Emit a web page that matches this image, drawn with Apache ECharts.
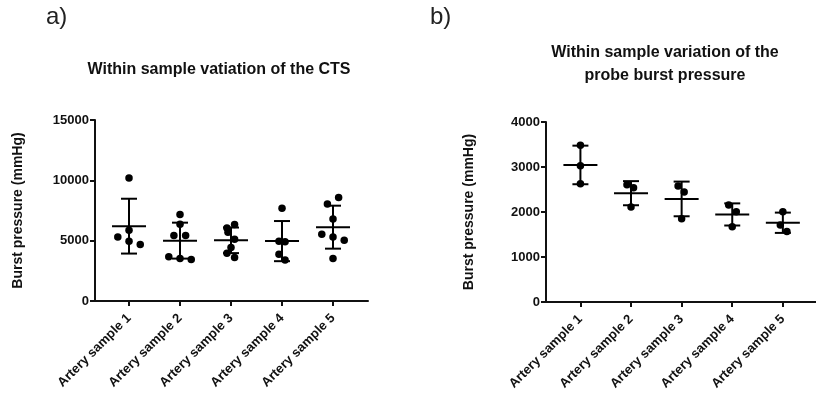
<!DOCTYPE html>
<html><head><meta charset="utf-8">
<script src="https://cdn.jsdelivr.net/npm/echarts@6/dist/echarts.min.js"></script>
<style>html,body{margin:0;padding:0;background:#fff}#c{width:816px;height:394px}</style>
</head><body><div id="c"></div>
<script>
// ---- data ----
const categories = ['Artery sample 1', 'Artery sample 2', 'Artery sample 3', 'Artery sample 4', 'Artery sample 5'];

// a) CTS burst pressure (mmHg)
const ctsS1 = [10190, 5314, 5868, 4959, 4686];
const ctsS2 = [7165, 6364, 5430, 5430, 3663, 3526, 3443];
const ctsS3 = [6330, 6060, 5700, 5110, 4440, 3960, 3600];
const ctsS4 = [7686, 4959, 4901, 3884, 3388];
const ctsS5 = [8570, 8041, 6802, 5537, 5314, 5041, 3529];
// horizontal jitter of the dots (in category units)
const ctsJ1 = [0, -0.22, 0, 0, 0.22];
const ctsJ2 = [0, 0, -0.12, 0.11, -0.22, 0, 0.22];
const ctsJ3 = [0.07, -0.08, -0.06, 0.07, 0, -0.08, 0.07];
const ctsJ4 = [0, -0.06, 0.06, -0.06, 0.06];
const ctsJ5 = [0.11, -0.11, 0, -0.22, 0, 0.22, 0];

// b) probe burst pressure (mmHg)
const prS1 = [3484, 3026, 2627];
const prS2 = [2605, 2538, 2111];
const prS3 = [2576, 2443, 1852];
const prS4 = [2155, 2007, 1675];
const prS5 = [2007, 1712, 1564];
const prJ1 = [0, 0, 0];
const prJ2 = [-0.08, 0.05, 0];
const prJ3 = [-0.07, 0.05, 0];
const prJ4 = [-0.07, 0.08, 0];
const prJ5 = [0, -0.05, 0.08];

const ctsTicks = [0, 5000, 10000, 15000];
const probeTicks = [0, 1000, 2000, 3000, 4000];

// ---- helpers ----
const FONT = '"Liberation Sans", Arial, sans-serif';
const INK = '#111';
function mean(a) { return a.reduce((s, v) => s + v, 0) / a.length; }
function sd(a) { const m = mean(a); return Math.sqrt(a.reduce((s, v) => s + (v - m) * (v - m), 0) / (a.length - 1)); }
function dots(groups, jit) {
  const out = [];
  groups.forEach((g, i) => g.forEach((v, k) => out.push([i + 1 + jit[i][k], v])));
  return out;
}
function bars(groups) { return groups.map((g, i) => [i + 1, mean(g), sd(g)]); }

const ctsGroups = [ctsS1, ctsS2, ctsS3, ctsS4, ctsS5];
const ctsJit = [ctsJ1, ctsJ2, ctsJ3, ctsJ4, ctsJ5];
const prGroups = [prS1, prS2, prS3, prS4, prS5];
const prJit = [prJ1, prJ2, prJ3, prJ4, prJ5];

function renderBar(params, api) {
  const x = api.value(0), m = api.value(1), s = api.value(2);
  const c = api.coord([x, m]), t = api.coord([x, m + s]), b = api.coord([x, m - s]);
  const st = { stroke: '#000', lineWidth: 2 };
  const cap = 8, half = 17;
  return {
    type: 'group', children: [
      { type: 'line', shape: { x1: t[0], y1: t[1], x2: b[0], y2: b[1] }, style: st },
      { type: 'line', shape: { x1: t[0] - cap, y1: t[1], x2: t[0] + cap, y2: t[1] }, style: st },
      { type: 'line', shape: { x1: b[0] - cap, y1: b[1], x2: b[0] + cap, y2: b[1] }, style: st },
      { type: 'line', shape: { x1: c[0] - half, y1: c[1], x2: c[0] + half, y2: c[1] }, style: st }
    ]
  };
}

function xAxis(gi, min, max) {
  return {
    type: 'value', gridIndex: gi, min: min, max: max,
    axisLine: { show: true, onZero: false, lineStyle: { color: INK, width: 2 } },
    axisTick: { show: true, customValues: [1, 2, 3, 4, 5], length: 5, lineStyle: { color: INK, width: 2 } },
    axisLabel: { customValues: [1, 2, 3, 4, 5], formatter: v => categories[Math.round(v) - 1], rotate: 45,
      fontFamily: FONT, fontWeight: 'bold', fontSize: 13, color: INK, margin: 15 },
    splitLine: { show: false }
  };
}
function yAxis(gi, ticks) {
  return {
    type: 'value', gridIndex: gi, min: ticks[0], max: ticks[ticks.length - 1], interval: ticks[1] - ticks[0],
    name: 'Burst pressure (mmHg)', nameLocation: 'middle', nameGap: 70,
    nameTextStyle: { fontFamily: FONT, fontWeight: 'bold', fontSize: 14, color: INK },
    axisLine: { show: true, lineStyle: { color: INK, width: 2 } },
    axisTick: { show: true, length: 5, lineStyle: { color: INK, width: 2 } },
    axisLabel: { formatter: v => String(v), fontFamily: FONT, fontWeight: 'bold', fontSize: 13, color: INK, margin: 6 },
    splitLine: { show: false }
  };
}

const chart = echarts.init(document.getElementById('c'), null, { renderer: 'canvas' });
chart.setOption({
  animation: false,
  backgroundColor: '#fff',
  grid: [
    { left: 95, top: 120, width: 273, height: 181 },
    { left: 546, top: 122, width: 270, height: 180 }
  ],
  xAxis: [xAxis(0, 0.333, 5.686), xAxis(1, 0.32, 5.655)],
  yAxis: [yAxis(0, ctsTicks), yAxis(1, probeTicks)],
  graphic: [
    { type: 'text', x: 46, y: 5, style: { text: 'a)', font: '24px ' + FONT, fill: '#222' } },
    { type: 'text', x: 430, y: 5, style: { text: 'b)', font: '24px ' + FONT, fill: '#222' } },
    { type: 'text', x: 219, y: 62, style: { text: 'Within sample vatiation of the CTS', font: 'bold 16px ' + FONT, fill: INK, align: 'center' } },
    { type: 'text', x: 665, y: 41, style: { text: 'Within sample variation of the\nprobe burst pressure', font: 'bold 16px ' + FONT, fill: INK, align: 'center', lineHeight: 23 } }
  ],
  series: [
    { type: 'scatter', xAxisIndex: 0, yAxisIndex: 0, data: dots(ctsGroups, ctsJit), symbolSize: 7.5, itemStyle: { color: '#000', opacity: 1 } },
    { type: 'custom', xAxisIndex: 0, yAxisIndex: 0, data: bars(ctsGroups), renderItem: renderBar },
    { type: 'scatter', xAxisIndex: 1, yAxisIndex: 1, data: dots(prGroups, prJit), symbolSize: 7.5, itemStyle: { color: '#000', opacity: 1 } },
    { type: 'custom', xAxisIndex: 1, yAxisIndex: 1, data: bars(prGroups), renderItem: renderBar }
  ]
});
</script>
</body></html>
